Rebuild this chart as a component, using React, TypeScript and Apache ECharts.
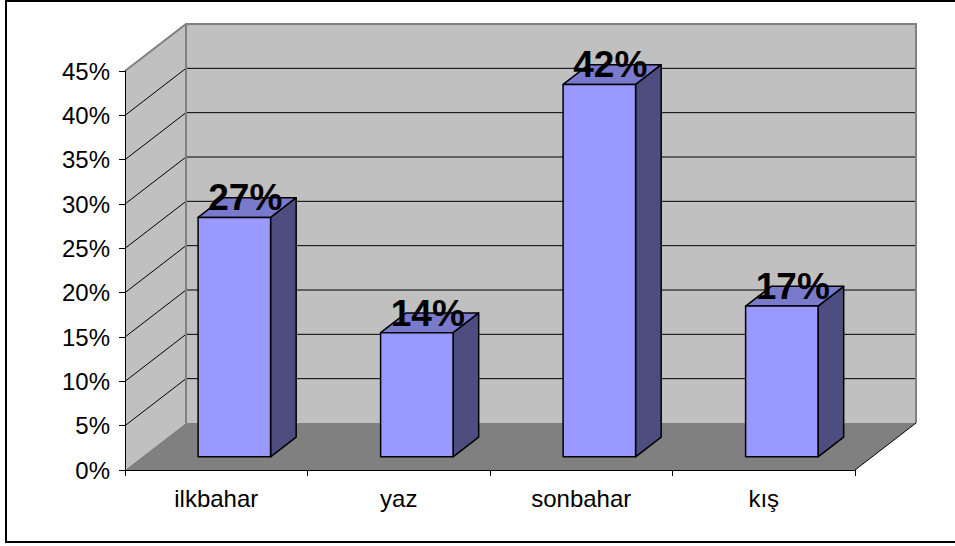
import React, { useEffect, useRef } from "react";
import * as echarts from "echarts";

const categories = ["ilkbahar", "yaz", "sonbahar", "kış"];
const values = [0.27, 0.14, 0.42, 0.17];
const gridValues = [0.05, 0.1, 0.15, 0.2, 0.25, 0.3, 0.35, 0.4];

const DX = 61;
const DY = -47;
const F0 = 0.28;
const F1 = 0.7;
const FONT = "'Liberation Sans', Arial, sans-serif";

export default function App() {
  const ref = useRef<HTMLDivElement>(null);
  useEffect(() => {
    document.body.style.margin = "0";
    if (!ref.current) return;
    const chart = echarts.init(ref.current, null, { renderer: "svg" });

    const renderBackground = (params: any, api: any) => {
      const cs = params.coordSys;
      const x0 = cs.x;
      const y0 = cs.y;
      const x1 = cs.x + cs.width;
      const y1 = cs.y + cs.height;
      const children: any[] = [];
      children.push({
        type: "polygon",
        shape: { points: [[x0, y1], [x0, y0], [x0 + DX, y0 + DY], [x0 + DX, y1 + DY]] },
        style: { fill: "#C0C0C0", stroke: null },
      });
      children.push({
        type: "rect",
        shape: { x: x0 + DX, y: y0 + DY, width: cs.width, height: cs.height },
        style: { fill: "#C0C0C0", stroke: null },
      });
      children.push({
        type: "polygon",
        shape: { points: [[x0, y1], [x0 + DX, y1 + DY], [x1 + DX, y1 + DY], [x1, y1]] },
        style: { fill: "#808080", stroke: null },
      });
      gridValues.forEach((v) => {
        const y = api.coord([0, v])[1];
        children.push({
          type: "polyline",
          shape: { points: [[x0, y], [x0 + DX, y + DY], [x1 + DX, y + DY]] },
          style: { stroke: "#000", lineWidth: 1, fill: null },
        });
      });
      children.push({
        type: "polyline",
        shape: { points: [[x0, y0], [x0 + DX, y0 + DY], [x1 + DX, y0 + DY], [x1 + DX, y1 + DY]] },
        style: { stroke: "#808080", lineWidth: 2, fill: null },
      });
      children.push({
        type: "line",
        shape: { x1: x0 + DX, y1: y0 + DY, x2: x0 + DX, y2: y1 + DY },
        style: { stroke: "#808080", lineWidth: 2 },
      });
      children.push({
        type: "line",
        shape: { x1: x1, y1: y1, x2: x1 + DX, y2: y1 + DY },
        style: { stroke: "#000", lineWidth: 1 },
      });
      return { type: "group", children };
    };

    const renderBar = (params: any, api: any) => {
      const idx = api.value(0);
      const val = api.value(1);
      const base = api.coord([idx, 0]);
      const top = api.coord([idx, val]);
      const catW = api.size([1, 0])[0];
      const w = catW * 0.397;
      const xl = base[0] - w / 2 + F0 * DX + 1;
      const xr = xl + w;
      const yb = base[1] + F0 * DY;
      const yt = top[1] + F0 * DY;
      const ddx = (F1 - F0) * DX;
      const ddy = (F1 - F0) * DY;
      const line = { stroke: "#000", lineWidth: 1.5, lineJoin: "round" };
      return {
        type: "group",
        children: [
          {
            type: "polygon",
            shape: { points: [[xr, yb], [xr + ddx, yb + ddy], [xr + ddx, yt + ddy], [xr, yt]] },
            style: { fill: "#4D4D80", ...line },
          },
          {
            type: "polygon",
            shape: { points: [[xl, yt], [xr, yt], [xr + ddx, yt + ddy], [xl + ddx, yt + ddy]] },
            style: { fill: "#7A7ACC", ...line },
          },
          {
            type: "rect",
            shape: { x: xl, y: yt, width: w, height: yb - yt },
            style: { fill: "#9999FF", ...line },
          },
          {
            type: "text",
            style: {
              text: Math.round(val * 100) + "%",
              x: (xl + xr) / 2 + 11,
              y: yt - 19.5,
              align: "center",
              verticalAlign: "middle",
              font: "bold 37px " + FONT,
              fill: "#000",
            },
          },
        ],
      };
    };

    chart.setOption({
      animation: false,
      grid: { left: 125, right: 100, top: 71, bottom: 76, containLabel: false },
      xAxis: {
        type: "category",
        data: categories,
        z: 10,
        axisLine: { show: true, lineStyle: { color: "#000", width: 1 } },
        axisTick: { show: true, length: 6, alignWithLabel: false, lineStyle: { color: "#000" } },
        axisLabel: { color: "#000", fontSize: 24, fontFamily: FONT, margin: 16 },
        splitLine: { show: false },
      },
      yAxis: {
        type: "value",
        min: 0,
        max: 0.45,
        interval: 0.05,
        z: 10,
        axisLine: { show: true, lineStyle: { color: "#000", width: 1 } },
        axisTick: { show: true, length: 6, lineStyle: { color: "#000" } },
        axisLabel: {
          color: "#000",
          fontSize: 24,
          fontFamily: FONT,
          margin: 15,
          formatter: (v: number) => Math.round(v * 100) + "%",
        },
        splitLine: { show: false },
      },
      graphic: [
        {
          type: "rect",
          shape: { x: 6, y: 1, width: 952, height: 541 },
          style: { fill: null, stroke: "#000", lineWidth: 2 },
          silent: true,
          z: 100,
        },
      ],
      series: [
        {
          type: "custom",
          renderItem: renderBackground,
          data: [[0, 0]],
          z: 1,
          silent: true,
        },
        {
          type: "custom",
          renderItem: renderBar,
          data: values.map((v, i) => [i, v]),
          z: 3,
          silent: true,
        },
      ],
    });
    return () => chart.dispose();
  }, []);
  return <div ref={ref} style={{ width: 955, height: 546 }} />;
}
